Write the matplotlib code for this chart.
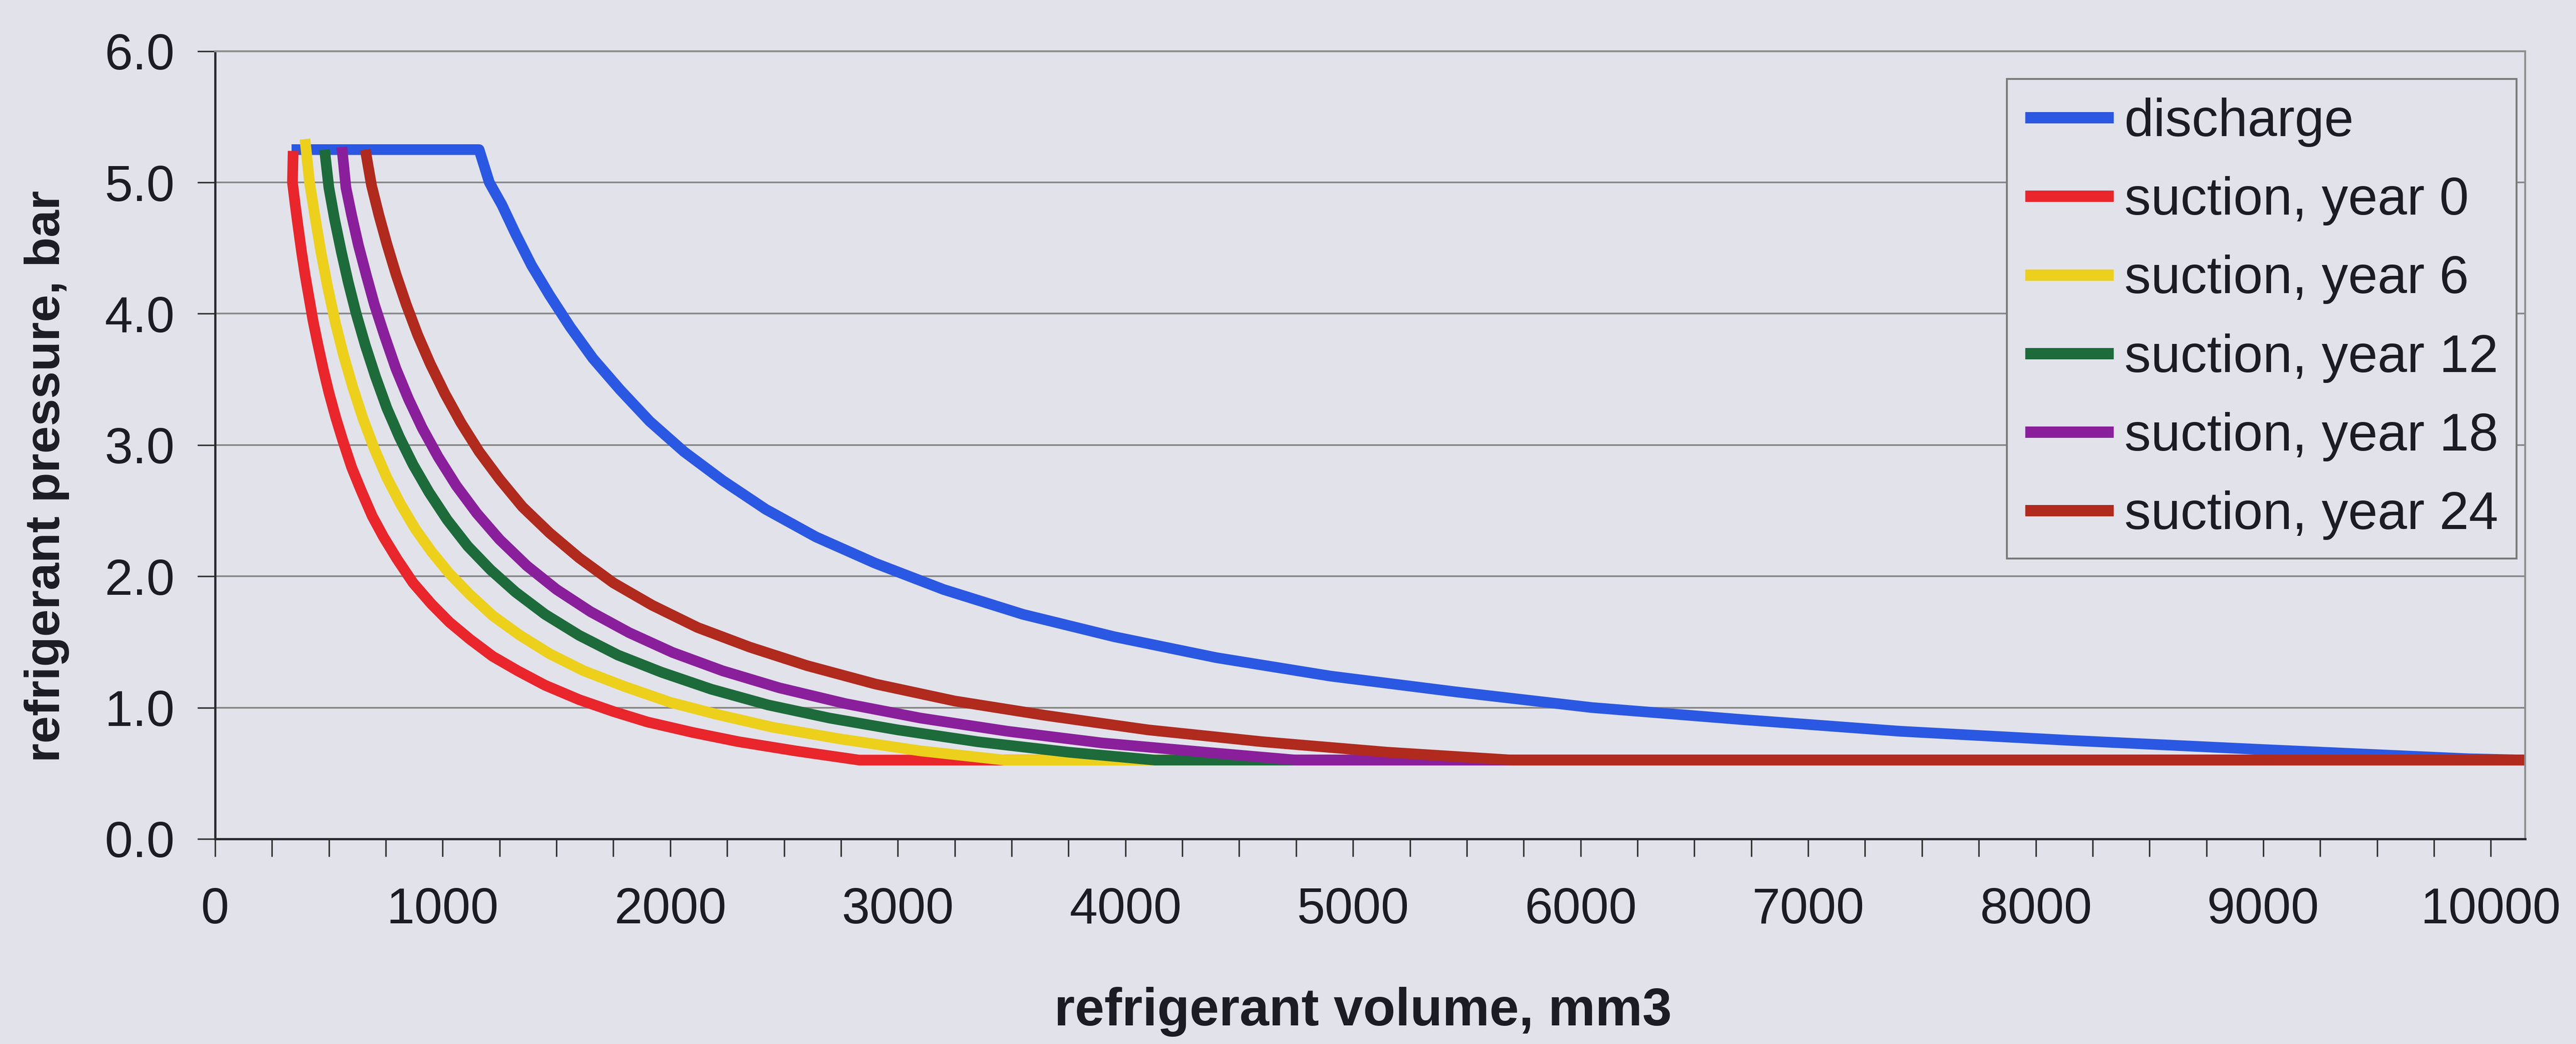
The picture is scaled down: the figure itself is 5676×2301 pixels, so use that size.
import matplotlib
matplotlib.use("Agg")
import matplotlib.pyplot as plt
from matplotlib.ticker import MultipleLocator, FormatStrFormatter

plt.rcParams['font.family'] = ['Liberation Sans', 'DejaVu Sans']

# refrigerant volume (mm3) and pressure (bar)
disch_v = [336, 1160, 1205, 1260, 1320, 1390, 1470, 1560, 1660, 1780, 1910, 2060, 2230, 2420,
           2640, 2900, 3200, 3550, 3950, 4400, 4900, 5450, 6050, 6700, 7400, 8150, 9000, 9900, 10150]
disch_p = [5.25, 5.25, 5.00, 4.83, 4.61, 4.37, 4.14, 3.90, 3.66, 3.42, 3.18, 2.95, 2.73, 2.51,
           2.30, 2.10, 1.90, 1.71, 1.54, 1.38, 1.24, 1.12, 1.00, 0.91, 0.82, 0.75, 0.68, 0.61, 0.60]

y0_v = [343, 340, 352, 365, 380, 395, 411, 430, 450, 475, 500, 530, 560, 600, 640, 690, 740,
        800, 870, 950, 1030, 1120, 1220, 1330, 1450, 1600, 1750, 1900, 2100, 2300, 2550, 2830, 10150]
y0_p = [5.24, 5.00, 4.83, 4.66, 4.47, 4.30, 4.14, 3.95, 3.78, 3.58, 3.40, 3.21, 3.04, 2.83, 2.66,
        2.46, 2.30, 2.13, 1.95, 1.79, 1.65, 1.52, 1.39, 1.28, 1.17, 1.06, 0.97, 0.89, 0.81, 0.74,
        0.67, 0.60, 0.60]

y6_v = [395, 415, 440, 465, 495, 530, 565, 605, 650, 700, 755, 815, 880, 950, 1030, 1120, 1220,
        1340, 1470, 1620, 1800, 2000, 2200, 2450, 2750, 3100, 3470, 10150]
y6_p = [5.33, 5.00, 4.73, 4.47, 4.20, 3.92, 3.68, 3.44, 3.20, 2.97, 2.75, 2.55, 2.36, 2.19, 2.02,
        1.86, 1.70, 1.55, 1.41, 1.28, 1.16, 1.04, 0.95, 0.85, 0.76, 0.67, 0.60, 0.60]

y12_v = [481, 500, 525, 555, 585, 620, 660, 705, 755, 810, 870, 940, 1020, 1110, 1210, 1320,
         1450, 1600, 1770, 1960, 2180, 2430, 2700, 3000, 3350, 3750, 4130, 10150]
y12_p = [5.25, 4.96, 4.72, 4.47, 4.24, 4.00, 3.76, 3.52, 3.28, 3.06, 2.85, 2.64, 2.43, 2.23,
         2.05, 1.88, 1.71, 1.55, 1.40, 1.27, 1.14, 1.02, 0.92, 0.83, 0.74, 0.66, 0.60, 0.60]

y18_v = [557, 575, 600, 630, 665, 700, 745, 795, 850, 910, 980, 1060, 1150, 1250, 1370, 1500,
         1650, 1820, 2010, 2230, 2480, 2770, 3100, 3480, 3900, 4350, 4750, 10150]
y18_p = [5.27, 4.96, 4.75, 4.52, 4.29, 4.07, 3.83, 3.58, 3.35, 3.13, 2.91, 2.69, 2.48, 2.28,
         2.08, 1.90, 1.73, 1.57, 1.42, 1.28, 1.15, 1.03, 0.92, 0.82, 0.73, 0.66, 0.60, 0.60]

y24_v = [660, 687, 720, 755, 795, 840, 890, 945, 1010, 1080, 1160, 1250, 1350, 1470, 1600,
         1750, 1920, 2120, 2350, 2600, 2900, 3250, 3650, 4100, 4600, 5150, 5700, 10150]
y24_p = [5.25, 4.98, 4.75, 4.53, 4.30, 4.07, 3.84, 3.62, 3.39, 3.17, 2.95, 2.74, 2.53, 2.33,
         2.14, 1.95, 1.78, 1.61, 1.46, 1.32, 1.18, 1.05, 0.94, 0.83, 0.74, 0.66, 0.60, 0.60]

labels = ['discharge', 'suction, year 0', 'suction, year 6', 'suction, year 12',
          'suction, year 18', 'suction, year 24']
colors = ['#2b58e2', '#e8262c', '#ecd01c', '#1d6b3a', '#8a1f9c', '#b02a1e']
series = [(disch_v, disch_p), (y0_v, y0_p), (y6_v, y6_p), (y12_v, y12_p),
          (y18_v, y18_p), (y24_v, y24_p)]

bg = '#e2e2eb'
fig = plt.figure(figsize=(28.38, 11.505), dpi=200, facecolor=bg)
ax = fig.add_axes([0.0835, 0.1965, 0.8967, 0.7545], facecolor=bg)

for (v, p), c, lab in zip(series, colors, labels):
    ax.plot(v, p, color=c, lw=8.5, label=lab, solid_joinstyle='round', solid_capstyle='butt')

ax.set_xlim(0, 10150)
ax.set_ylim(0, 6)
ax.xaxis.set_major_locator(MultipleLocator(1000))
ax.xaxis.set_minor_locator(MultipleLocator(250))
ax.yaxis.set_major_locator(MultipleLocator(1))
ax.yaxis.set_major_formatter(FormatStrFormatter('%.1f'))
ax.grid(axis='y', color='#858585', lw=1.3)
ax.set_axisbelow(True)

ax.tick_params(axis='both', which='both', direction='out', length=14, width=1.2,
               colors='#333333', labelcolor='#1c1c24', labelsize=40)
ax.tick_params(axis='x', which='major', pad=24)
ax.tick_params(axis='y', pad=18)

for s in ['left', 'bottom']:
    ax.spines[s].set_color('#2a2a30')
    ax.spines[s].set_linewidth(1.8)
for s in ['top', 'right']:
    ax.spines[s].set_color('#8e8e8e')
    ax.spines[s].set_linewidth(1.5)

ax.set_xlabel('refrigerant volume, mm3', fontsize=42, fontweight='bold', color='#1c1c24')
ax.set_ylabel('refrigerant pressure, bar', fontsize=39, fontweight='bold', color='#1c1c24')
ax.xaxis.set_label_coords(0.497, -0.188)
ax.yaxis.set_label_coords(-0.063, 0.46)

leg = ax.legend(loc='upper right', bbox_to_anchor=(0.9964, 0.9646), borderaxespad=0,
                fontsize=42, frameon=True, fancybox=False, handlelength=1.67,
                handletextpad=0.2, labelspacing=0.55, borderpad=0.35)
leg.get_frame().set_facecolor(bg)
leg.get_frame().set_edgecolor('#7a7a7a')
leg.get_frame().set_linewidth(1.5)
leg.get_frame().set_alpha(1)
for line in leg.get_lines():
    line.set_linewidth(9)
for t in leg.get_texts():
    t.set_color('#1c1c24')

fig.savefig('out.png', dpi=200, facecolor=bg)
